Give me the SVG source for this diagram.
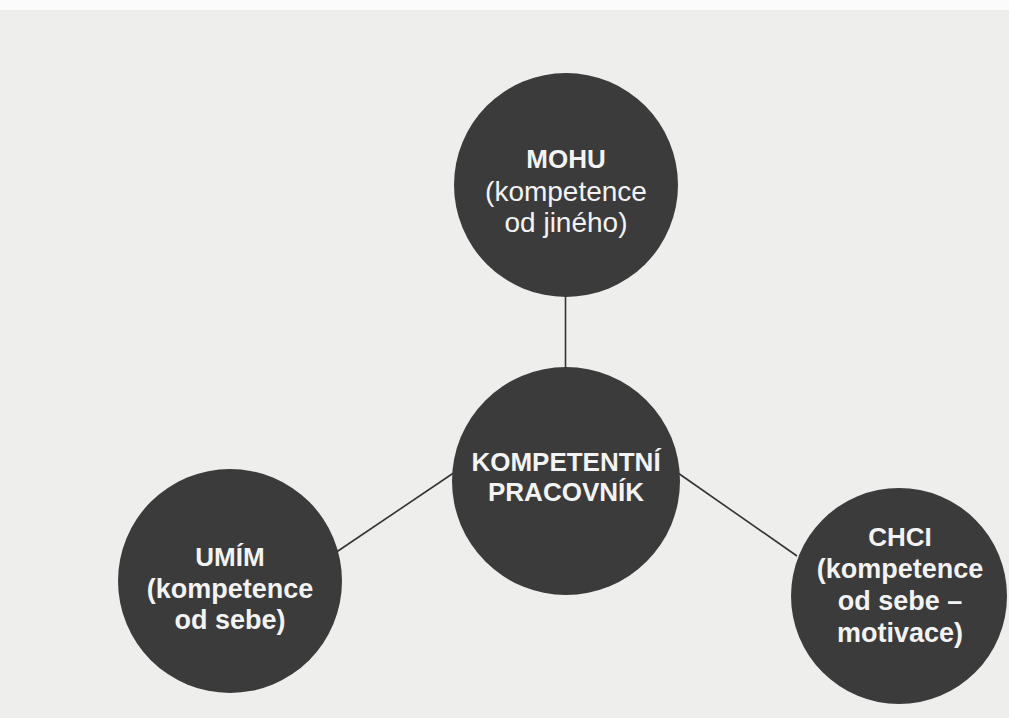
<svg xmlns="http://www.w3.org/2000/svg" width="1009" height="718" viewBox="0 0 1009 718">
<style>
.bg{fill:#eeeeed}
.node{fill:#3b3b3b}
.t{font-family:"Liberation Sans",Arial,Helvetica,sans-serif;fill:#f3f3f3;text-anchor:middle}
.r{font-size:28px}
.b{font-size:26px;font-weight:bold}
.sb{font-size:27px;font-weight:bold}
.cb{font-size:26px;font-weight:bold}
.edge{stroke:#333;stroke-width:1.6;fill:none}
</style>
<rect class="bg" x="0" y="0" width="1009" height="718"/>
<rect x="0" y="0" width="1009" height="10" fill="#fbfbfb"/>
<g id="connectors">
<line class="edge" x1="565.5" y1="296" x2="565.5" y2="368"/>
<line class="edge" x1="335" y1="553" x2="455" y2="472"/>
<line class="edge" x1="678" y1="473" x2="797" y2="556"/>
</g>
<g id="mohu">
<circle class="node" cx="566" cy="185" r="112"/>
<text class="t b" x="566" y="168">MOHU</text>
<text class="t r" x="566" y="201">(kompetence</text>
<text class="t r" x="566" y="232">od jiného)</text>
</g>
<g id="kompetentni">
<circle class="node" cx="566" cy="481" r="114"/>
<text class="t cb" x="566" y="471">KOMPETENTNÍ</text>
<text class="t cb" x="566" y="501">PRACOVNÍK</text>
</g>
<g id="umim">
<circle class="node" cx="230" cy="581" r="112"/>
<text class="t b" x="230" y="566">UMÍM</text>
<text class="t sb" x="230" y="598">(kompetence</text>
<text class="t sb" x="230" y="629">od sebe)</text>
</g>
<g id="chci">
<circle class="node" cx="899" cy="596" r="108"/>
<text class="t b" x="900" y="546">CHCI</text>
<text class="t sb" x="900" y="578">(kompetence</text>
<text class="t sb" x="900" y="610">od sebe –</text>
<text class="t sb" x="900" y="642">motivace)</text>
</g>
</svg>
